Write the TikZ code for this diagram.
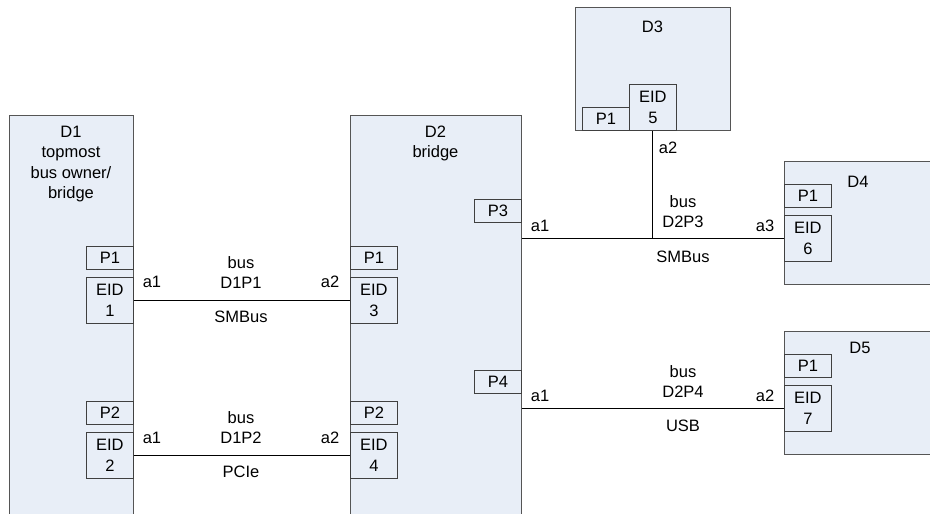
\documentclass[tikz,border=0pt]{standalone}
\usepackage{fontspec}
\setmainfont{Liberation Sans}
\usetikzlibrary{positioning,calc}
\definecolor{devfill}{RGB}{232,238,247}
\definecolor{devline}{RGB}{85,85,85}

\begin{document}
\begin{tikzpicture}[x=1pt,y=-1pt,font=\fontsize{16.5}{20.5}\selectfont,
  dev/.style={draw=devline,fill=devfill,line width=1pt,anchor=north west,inner sep=0pt},
  port/.style={draw=black!75,fill=devfill,line width=0.8pt,anchor=north west,inner sep=0pt,minimum width=47pt,minimum height=23pt},
  eid/.style={port,minimum height=46pt,align=center},
  txt/.style={inner sep=0pt,align=center},
  bus/.style={line width=0.9pt}]
\useasboundingbox (0,0) rectangle (930,514);\clip (0,0) rectangle (930,514);
% devices
\node[dev,minimum width=124pt,minimum height=420pt] (d1) at (9,115) {};
\node[dev,minimum width=171pt,minimum height=420pt] (d2) at (350,115) {};
\node[dev,minimum width=155pt,minimum height=123pt] (d3) at (575,7) {};
\node[dev,minimum width=152pt,minimum height=123pt] (d4) at (784,161) {};
\node[dev,minimum width=152pt,minimum height=123pt] (d5) at (784,331) {};
\node[txt] (t1) at (71,164) {D1\\topmost\\bus owner/\\bridge};
\node[txt] (t2) at (435.5,143.5) {D2\\bridge};
\node[txt] (t3) at (652.5,27) {D3};
\node[txt] (t4) at (858,182) {D4};
\node[txt] (t5) at (860,348) {D5};
% ports and endpoint IDs
\node[port] (d1p1) at (86,246) {P1};\node[eid] (eid1) at (86,277) {EID\\1};
\node[port] (d1p2) at (86,401) {P2};\node[eid] (eid2) at (86,432) {EID\\2};
\node[port] (d2p1) at (350,246) {P1};\node[eid] (eid3) at (350,277) {EID\\3};
\node[port] (d2p2) at (350,401) {P2};\node[eid] (eid4) at (350,432) {EID\\4};
\node[port] (d2p3) at (474,199) {P3};\node[port] (d2p4) at (474,370) {P4};
\node[port] (d3p1) at (582,107) {P1};\node[eid] (eid5) at (629,84) {EID\\5};
\node[port] (d4p1) at (784,184) {P1};\node[eid] (eid6) at (784,215) {EID\\6};
\node[port] (d5p1) at (784,354) {P1};\node[eid] (eid7) at (784,385) {EID\\7};
% buses
\coordinate (s3) at (eid6.west -| d2.east);\coordinate (s4) at (eid7.west -| d2.east);
\coordinate (j3) at (eid5.south |- eid6.west);
\draw[bus] (eid1.east) -- (eid3.west);\draw[bus] (eid2.east) -- (eid4.west);
\draw[bus] (s3) -- (eid6.west);\draw[bus] (eid5.south) -- (j3);\draw[bus] (s4) -- (eid7.west);
\foreach \n/\x/\y/\lab in {b1/241/272.5/D1P1,b2/241/427.5/D1P2,b3/683/211.5/D2P3,b4/683/381.5/D2P4}{\node[txt] (\n) at (\x,\y) {bus\\\lab};}
\foreach \n/\x/\y/\lab in {m1/241/317/SMBus,m2/241/472/PCIe,m3/683/257/SMBus,m4/683/426/USB}{\node[txt] (\n) at (\x,\y) {\lab};}
\foreach \n/\x/\y/\lab in {a11/152/282/a1,a12/330/282/a2,a21/152/438/a1,a22/330/438/a2,a31/540/226/a1,a33/765/226/a3,a32/668/148/a2,a41/540/396/a1,a42/765/396/a2}{\node[txt] (\n) at (\x,\y) {\lab};}
\end{tikzpicture}
\end{document}
